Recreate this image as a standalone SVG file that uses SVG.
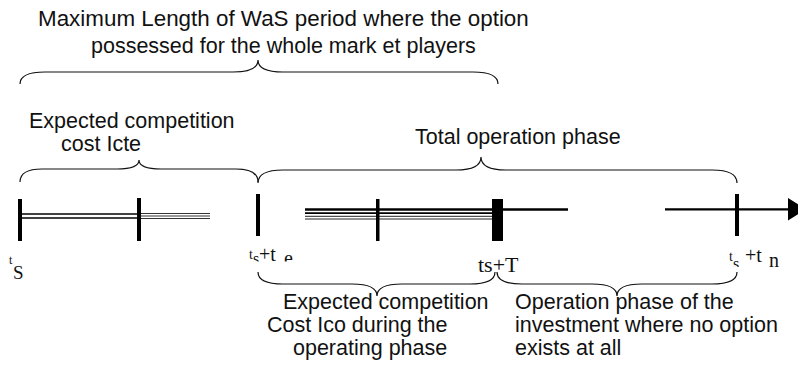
<svg xmlns="http://www.w3.org/2000/svg" width="798" height="371" viewBox="0 0 798 371">
  <style>
    .lbl { font-family: "Liberation Sans", Arial, sans-serif; font-size: 21.5px; fill: #111; }
    .tm { font-family: "Liberation Serif", "Times New Roman", serif; fill: #111; }
    .brace { fill: none; stroke: #111; stroke-width: 1.2; }
    .tick { fill: #000; }
  </style>
  <defs>
    <clipPath id="clipA"><rect x="240" y="240" width="70" height="21.5"/></clipPath>
    <clipPath id="clipB"><rect x="720" y="240" width="78" height="27"/></clipPath>
  </defs>

  <g id="label-top">
    <text class="lbl" x="38" y="26" style="font-size:22.4px">Maximum Length of WaS period where the option</text>
    <text class="lbl" x="91" y="53">possessed for the whole mark et players</text>
  </g>
  <g id="label-icte">
    <text class="lbl" x="29" y="128">Expected competition</text>
    <text class="lbl" x="61" y="151">cost Icte</text>
  </g>
  <g id="label-total">
    <text class="lbl" x="415" y="144">Total operation phase</text>
  </g>
  <g id="label-ico">
    <text class="lbl" x="283" y="309">Expected competition</text>
    <text class="lbl" x="267" y="332">Cost Ico  during the</text>
    <text class="lbl" x="293" y="355">operating phase</text>
  </g>
  <g id="label-noopt">
    <text class="lbl" x="515" y="309">Operation phase of the</text>
    <text class="lbl" x="515" y="332">investment where no option</text>
    <text class="lbl" x="515" y="355">exists at all</text>
  </g>

  <g id="braces">
    <path class="brace" d="M20,84 C20,76 28,72 45,72 L233,72 C250,72 258,68 258,60 C258,68 266,72 283,72 L473,72 C490,72 498,76 498,84"/>
    <path class="brace" d="M20,182 C20,174 27,169 42,169 L117,169 C132,169 139,166 139,160 C139,166 146,169 161,169 L236,169 C251,169 258,174 258,182"/>
    <path class="brace" d="M258,183 C258,175 266,170 283,170 L456,170 C473,170 481,166 481,157 C481,166 489,170 506,170 L712,170 C729,170 737,175 737,183"/>
    <path class="brace" d="M258,272 C258,280 266,284 283,284 L352,284 C369,284 377,288 377,296 C377,288 385,284 402,284 L470,284 C487,284 495,280 495,272"/>
    <path class="brace" d="M497,272 C497,280 505,284 522,284 L592,284 C609,284 617,288 617,296 C617,288 625,284 642,284 L712,284 C729,284 737,280 737,272"/>
  </g>

  <g id="timeline">
    <line x1="20" y1="214" x2="139" y2="214" stroke="#000" stroke-width="1.6"/>
    <line x1="20" y1="218" x2="139" y2="218" stroke="#000" stroke-width="1.6"/>
    <line x1="139" y1="213.5" x2="210" y2="213.5" stroke="#333" stroke-width="1"/>
    <line x1="139" y1="216" x2="210" y2="216" stroke="#333" stroke-width="1"/>
    <line x1="139" y1="218.5" x2="210" y2="218.5" stroke="#333" stroke-width="1"/>
    <line x1="305" y1="209.5" x2="568" y2="209.5" stroke="#000" stroke-width="2.4"/>
    <line x1="305" y1="213.2" x2="497" y2="213.2" stroke="#000" stroke-width="1.8"/>
    <line x1="305" y1="216.3" x2="497" y2="216.3" stroke="#222" stroke-width="1"/>
    <line x1="305" y1="219" x2="497" y2="219" stroke="#222" stroke-width="1"/>
    <line x1="665" y1="209.3" x2="792" y2="209.3" stroke="#000" stroke-width="2.2"/>
    <polygon points="788,198 806,209.3 788,220.5" fill="#000"/>
    <rect class="tick" x="18" y="199" width="4" height="42"/>
    <rect class="tick" x="137" y="198" width="4" height="43"/>
    <rect class="tick" x="256" y="194" width="4" height="42"/>
    <rect class="tick" x="376" y="199" width="3.5" height="42"/>
    <rect class="tick" x="492" y="199" width="11" height="42"/>
    <rect class="tick" x="735" y="194" width="4" height="42"/>
  </g>

  <g id="time-labels">
    <text class="tm" x="9" y="264" font-size="12">t</text>
    <text class="tm" x="13" y="279" font-size="19">S</text>
    <g clip-path="url(#clipA)">
      <text class="tm" x="249" y="259" font-size="14">t</text>
      <text class="tm" x="253" y="264" font-size="16">s</text>
      <text class="tm" x="259" y="261" font-size="20">+t</text>
      <text class="tm" x="284" y="265" font-size="20">e</text>
    </g>
    <text class="tm" x="478" y="272" font-size="22">ts+T</text>
    <g clip-path="url(#clipB)">
      <text class="tm" x="729" y="261" font-size="14">t</text>
      <text class="tm" x="733" y="269" font-size="16">s</text>
      <text class="tm" x="745" y="262" font-size="20">+t</text>
      <text class="tm" x="769" y="267" font-size="20">n</text>
    </g>
  </g>
</svg>
